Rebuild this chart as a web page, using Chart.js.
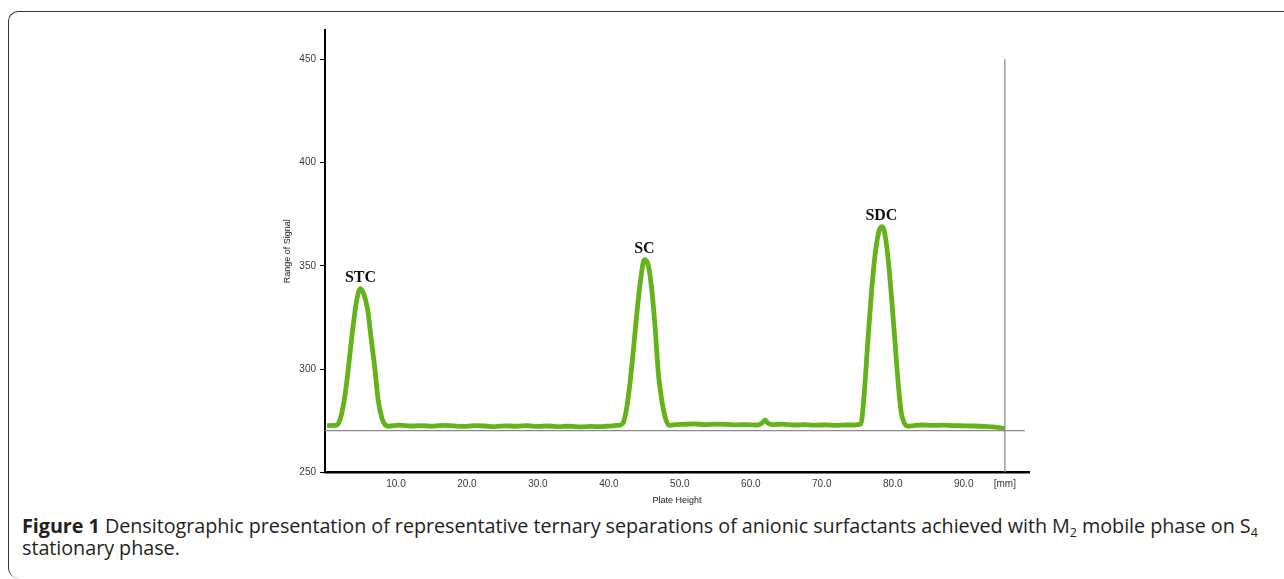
<!DOCTYPE html>
<html>
<head>
<meta charset="utf-8">
<script src="https://cdn.jsdelivr.net/npm/chart.js@4.4.1/dist/chart.umd.min.js"></script>
<style>
  html, body { margin: 0; padding: 0; background: #fff; }
  body { width: 1284px; height: 579px; position: relative; overflow: hidden; }
  #frame {
    position: absolute; left: 8px; top: 11px; width: 1300px; height: 566px;
    border-left: 1.5px solid #333; border-top: 1.5px solid #333;
    border-radius: 10px 0 0 10px;
  }
  #chart { position: absolute; left: 0; top: 0; }
  #caption {
    position: absolute; left: 22px; top: 515px; width: 1262px;
    font-family: "Open Sans", sans-serif; font-size: 19.8px; line-height: 22px;
    color: #231f20; white-space: nowrap; letter-spacing: -0.05px;
  }
  #caption b { font-weight: 700; }
  #caption sub { font-size: 12.5px; vertical-align: -4px; line-height: 0; }
</style>
</head>
<body>
<div id="frame"></div>
<canvas id="chart" width="1284" height="510"></canvas>
<div id="caption"><b>Figure 1</b> Densitographic presentation of representative ternary separations of anionic surfactants achieved with M<sub>2</sub> mobile phase on S<sub>4</sub><br>stationary phase.</div>

<script>
// densitogram trace
const plateHeight = [
  0.3, 1.0, 1.5, 2.0, 2.5, 3.0, 3.5, 4.0, 4.5, 5.0, 5.5, 6.0, 6.5, 7.0, 7.5, 8.0, 8.5, 9.0,
  10.5, 12.0, 13.5, 15.0, 16.5, 18.0, 19.5, 21.0, 22.5, 24.0, 25.5, 27.0, 28.5, 30.0,
  31.5, 33.0, 34.5, 36.0, 37.5, 39.0, 40.5, 41.5,
  42.0, 42.5, 43.0, 43.5, 44.0, 44.5, 45.0, 45.5, 46.0, 46.5, 47.0, 47.5, 48.0, 48.5, 49.0,
  50.5, 52.0, 53.5, 55.0, 56.5, 58.0, 59.5, 61.0, 61.6, 62.0, 62.4, 63.0,
  64.5, 66.0, 67.5, 69.0, 70.5, 72.0, 73.5, 74.5, 75.0,
  75.5, 76.0, 76.5, 77.0, 77.5, 78.0, 78.4, 78.8, 79.3, 79.8, 80.3, 80.8, 81.2, 81.7, 82.2,
  82.8, 84.0, 85.5, 87.0, 88.5, 90.0, 91.5, 93.0, 94.5, 95.8
];
const signal = [
  272.6, 272.8, 272.8, 274.5, 281, 292, 307, 322, 334, 339, 336, 329, 315, 301, 285, 276.5, 273, 272.4,
  272.9, 272.5, 272.7, 272.4, 272.8, 272.6, 272.3, 272.7, 272.5, 272.2, 272.6, 272.4, 272.7, 272.3,
  272.5, 272.2, 272.4, 272.1, 272.3, 272.2, 272.6, 272.9,
  274, 281, 294, 311, 329, 344, 353, 351, 340, 321, 297, 284, 276, 272.8, 273,
  273.3, 273.5, 273.2, 273.4, 273.3, 273.1, 273.2, 273, 274, 275.3, 274, 273.2,
  273.4, 273, 273.2, 272.9, 273.1, 272.8, 273, 273, 273.2,
  273.5, 289, 314, 337, 355, 366, 369, 367, 355, 336, 314, 292, 279, 273.5, 272.4,
  272.6, 273, 272.8, 272.9, 272.7, 272.6, 272.5, 272.3, 272.0, 271.2
];

const peakNames = ['STC', 'SC', 'SDC'];
const peakX = [5.0, 45.0, 78.4];
const peakTop = [339, 353, 369];

const xTicks = [10, 20, 30, 40, 50, 60, 70, 80, 90];
const yTicks = [250, 300, 350, 400, 450];
const endMark = 95.8;      // scan end, also where "[mm]" sits
const zeroLine = 270.3;

const trace = plateHeight.map((x, i) => ({ x: x, y: signal[i] }));

const peakLabelPlugin = {
  id: 'peakLabels',
  afterDatasetsDraw(chart) {
    const ctx = chart.ctx;
    const xs = chart.scales.x, ys = chart.scales.y;
    ctx.save();
    ctx.font = 'bold 16px "Liberation Serif", "DejaVu Serif", serif';
    ctx.fillStyle = '#111';
    ctx.textAlign = 'center';
    ctx.textBaseline = 'bottom';
    peakNames.forEach((name, i) => {
      ctx.fillText(name, xs.getPixelForValue(peakX[i]), ys.getPixelForValue(peakTop[i]) - 3);
    });
    ctx.restore();
  }
};

const ctx = document.getElementById('chart').getContext('2d');
new Chart(ctx, {
  type: 'line',
  data: {
    datasets: [
      {
        data: [{ x: 0, y: zeroLine }, { x: 98.6, y: zeroLine }],
        borderColor: '#8a8a8a', borderWidth: 1.3, pointRadius: 0
      },
      {
        data: [{ x: endMark, y: 250 }, { x: endMark, y: 450 }],
        borderColor: '#8a8a8a', borderWidth: 1.3, pointRadius: 0
      },
      {
        data: trace,
        borderColor: '#63b41a', borderWidth: 4.8, pointRadius: 0,
        cubicInterpolationMode: 'monotone'
      },
      {
        data: trace,
        borderColor: '#93e43a', borderWidth: 2.5, pointRadius: 0,
        cubicInterpolationMode: 'monotone'
      }
    ]
  },
  options: {
    responsive: false,
    animation: false,
    devicePixelRatio: 1,
    layout: { padding: { left: 278, right: 255, top: 30, bottom: 0.5 } },
    plugins: { legend: { display: false }, tooltip: { enabled: false } },
    scales: {
      x: {
        type: 'linear', min: 0, max: 99.2,
        afterBuildTicks: s => { s.ticks = xTicks.concat([endMark]).map(v => ({ value: v })); },
        afterFit: s => { s.height = 37; },
        grid: { display: false, drawTicks: false, tickLength: 0 },
        border: { color: '#000', width: 2.5 },
        ticks: {
          autoSkip: false, maxRotation: 0, padding: 6,
          color: '#3a3a3a', font: { family: '"Liberation Sans", Arial, sans-serif', size: 10 },
          callback: v => v === endMark ? '[mm]' : v.toFixed(1)
        },
        title: {
          display: true, text: 'Plate Height', color: '#222',
          font: { family: '"Liberation Sans", Arial, sans-serif', size: 9 }
        }
      },
      y: {
        type: 'linear', min: 250, max: 464.2,
        afterBuildTicks: s => { s.ticks = yTicks.map(v => ({ value: v })); },
        afterFit: s => { s.width = 47; },
        grid: { drawOnChartArea: false, tickLength: 5, color: '#000' },
        border: { color: '#000', width: 2 },
        ticks: {
          padding: 4, color: '#3a3a3a',
          font: { family: '"Liberation Sans", Arial, sans-serif', size: 10 }
        },
        title: {
          display: true, text: 'Range of Signal', color: '#222',
          font: { family: '"Liberation Sans", Arial, sans-serif', size: 9 }
        }
      }
    }
  },
  plugins: [peakLabelPlugin]
});
</script>
</body>
</html>
